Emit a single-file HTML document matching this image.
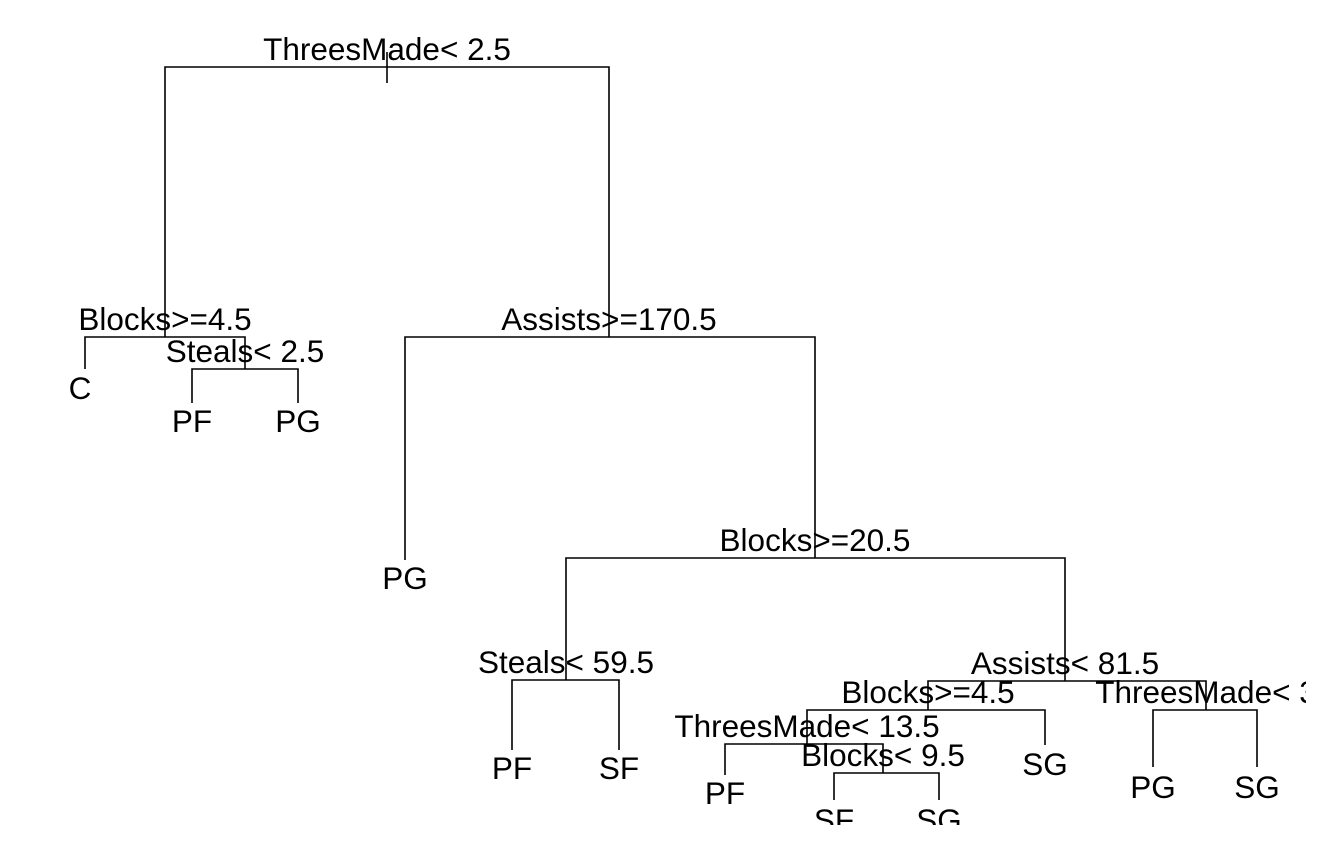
<!DOCTYPE html>
<html><head><meta charset="utf-8"><style>
html,body{margin:0;padding:0;background:#fff;}
svg{display:block;}
text{font-family:"Liberation Sans",Arial,sans-serif;font-size:31.5px;fill:#000;text-anchor:middle;}
</style></head><body>
<svg width="1344" height="864" viewBox="0 0 1344 864" xmlns="http://www.w3.org/2000/svg">
<defs><clipPath id="c"><rect x="0" y="0" width="1306" height="825"/></clipPath></defs>
<g clip-path="url(#c)">
<g stroke="#000" stroke-width="1.6" fill="none">
<line x1="387" y1="52" x2="387" y2="83"/>
<polyline points="165,337 165,67 609,67 609,337"/>
<polyline points="85,369 85,337 245,337 245,369"/>
<polyline points="192,403 192,369 298,369 298,403"/>
<polyline points="405,560 405,337 815,337 815,558"/>
<polyline points="566,680 566,558 1065,558 1065,681"/>
<polyline points="512,750 512,680 619,680 619,750"/>
<polyline points="928,710 928,681 1206,681 1206,710"/>
<polyline points="1153,767 1153,710 1257,710 1257,767"/>
<polyline points="807,744 807,710 1045,710 1045,745"/>
<polyline points="725,775 725,744 883,744 883,773"/>
<polyline points="834,800 834,773 939,773 939,800"/>
</g>
<text x="387" y="60">ThreesMade&lt; 2.5</text>
<text x="165" y="330">Blocks&gt;=4.5</text>
<text x="245" y="362">Steals&lt; 2.5</text>
<text x="80" y="399">C</text>
<text x="192" y="432">PF</text>
<text x="298" y="432">PG</text>
<text x="609" y="330">Assists&gt;=170.5</text>
<text x="405" y="589">PG</text>
<text x="815" y="551">Blocks&gt;=20.5</text>
<text x="566" y="673">Steals&lt; 59.5</text>
<text x="512" y="779">PF</text>
<text x="619" y="779">SF</text>
<text x="1065" y="674">Assists&lt; 81.5</text>
<text x="928" y="703">Blocks&gt;=4.5</text>
<text x="1206" y="703">ThreesMade&lt; 3</text>
<text x="1153" y="798">PG</text>
<text x="1257" y="798">SG</text>
<text x="807" y="737">ThreesMade&lt; 13.5</text>
<text x="1045" y="775">SG</text>
<text x="883" y="766">Blocks&lt; 9.5</text>
<text x="725" y="804">PF</text>
<text x="834" y="831">SF</text>
<text x="939" y="831">SG</text>
</g>
</svg>
</body></html>
